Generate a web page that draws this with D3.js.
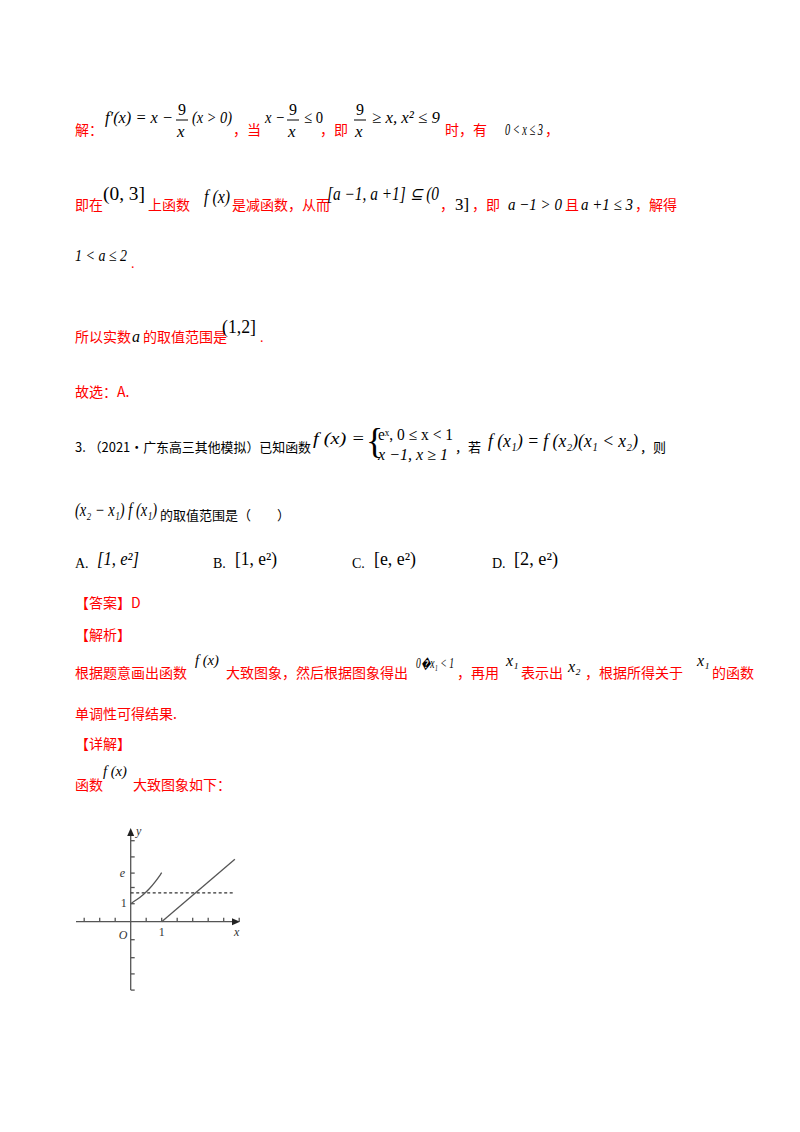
<!DOCTYPE html>
<html><head><meta charset="utf-8">
<script src="https://cdn.jsdelivr.net/npm/d3@7"></script>
<style>body{margin:0;background:#fff}</style></head>
<body><svg id="s" width="800" height="1132"></svg>
<script>
// Graph data
const curvePts = [[0,1],[0.2,1.22],[0.4,1.49],[0.6,1.82],[0.8,2.23],[1,2.72]];
const linePts = [[1,0],[3.36,3.47]];
const dashY = [1.6];
const xTicks = [-1.5,-1,-0.5,0.5,1,1.5,2,2.5,3,3.5];
const yTicks = [-3.8,-2.9,-2,-1,1,1.9,2.7,3.6,4.5];

const svg = d3.select("#s");
const RED="#ff0000", CJK="'Noto Sans CJK SC',sans-serif", SER="'Liberation Serif','Times New Roman',serif";
function t(x,y,s,c,f,sz,it,w){const e=svg.append("text").attr("x",x).attr("y",y).text(s).attr("fill",c||"#000")
  .attr("font-family",f||SER).attr("font-size",sz||17).attr("font-style",it?"italic":"normal");
  if(w) e.attr("textLength",w).attr("lengthAdjust","spacingAndGlyphs");}
function frac(x,y,n,d){t(x,y-8,n,"#000",SER,16);svg.append("line").attr("x1",x-2).attr("x2",x+10).attr("y1",y-3).attr("y2",y-3).attr("stroke","#000");t(x-1,y+14,d,"#000",SER,17,true);}
// line 1
t(75,135,"解：",RED,CJK,14);
t(105,123,"f′(x) = x −","#000",SER,17,true,68); frac(178,123,"9","x"); t(192,123,"(x > 0)","#000",SER,17,true,40);
t(233,135,"，当",RED,CJK,14);
t(265,123,"x −","#000",SER,17,true,20); frac(289,123,"9","x"); t(304,123,"≤ 0","#000",SER,17,false,19);
t(320,135,"，即",RED,CJK,14);
frac(356,123,"9","x"); t(372,123,"≥ x,  x² ≤ 9","#000",SER,17,true,68);
t(445,135,"时，有",RED,CJK,14);
t(505,135,"0 < x ≤ 3","#000",SER,17,true,38);
t(545,135,"，",RED,CJK,14);
// line 2
t(75,210,"即在",RED,CJK,14); t(103,200,"(0,  3]","#000",SER,19,false,42);
t(148,210,"上函数",RED,CJK,14); t(204,203,"f (x)","#000",SER,18,true,26);
t(232,210,"是减函数，从而",RED,CJK,14); t(327,200,"[a −1,  a +1] ⊆ (0","#000",SER,18,true,112);
t(440,210,"，",RED,CJK,14); t(455,210,"3]","#000",SER,17,false,14);
t(472,210,"，即",RED,CJK,14); t(508,210,"a −1 > 0","#000",SER,17,true,54);
t(565,210,"且",RED,CJK,14); t(581,210,"a +1 ≤ 3","#000",SER,17,true,52);
t(635,210,"，解得",RED,CJK,14);
// line 3
t(75,261,"1 < a ≤ 2","#000",SER,17,true,52); t(131,268,".",RED,SER,14);
// line 4
t(75,342,"所以实数",RED,CJK,14); t(132,342,"a","#000",SER,16,true); t(143,342,"的取值范围是",RED,CJK,14);
t(222,333,"(1,2]","#000",SER,19,false,34); t(260,342,".",RED,SER,14);
// line 5
t(75,397,"故选：A.",RED,CJK,14);
// question
t(75,452,"3. （2021·广东高三其他模拟）已知函数","#000",CJK,13,false,236);
t(313,444,"f (x) =","#000",SER,17,true,52); t(366,453,"{","#000",SER,36);
t(378,440,"eˣ, 0 ≤ x < 1","#000",SER,16,false,75); t(378,460,"x −1, x ≥ 1","#000",SER,16,true,70);
t(455,452,"，若","#000",CJK,13); t(488,447,"f (x₁) = f (x₂)(x₁ < x₂)","#000",SER,18,true,150); t(640,452,"，则","#000",CJK,13);
t(75,516,"(x₂ − x₁) f (x₁)","#000",SER,18,true,82); t(160,520,"的取值范围是（　　）","#000",CJK,13);
t(75,568,"A.","#000",SER,14); t(97,565,"[1, e²]","#000",SER,18,true,42);
t(213,568,"B.","#000",SER,14); t(235,565,"[1, e²)","#000",SER,18,false,42);
t(352,568,"C.","#000",SER,14); t(374,565,"[e, e²)","#000",SER,18,false,42);
t(492,568,"D.","#000",SER,14); t(514,565,"[2, e²)","#000",SER,18,false,44);
t(75,608,"【答案】D",RED,CJK,14);
t(75,640,"【解析】",RED,CJK,14);
t(75,678,"根据题意画出函数",RED,CJK,14); t(195,665,"f (x)","#000",SER,15,true,24);
t(226,678,"大致图象，然后根据图象得出",RED,CJK,14); t(416,668,"0�x₁ < 1","#000",SER,14,true,38);
t(457,678,"，再用",RED,CJK,14); t(506,666,"x₁","#000",SER,16,true);
t(521,678,"表示出",RED,CJK,14); t(568,672,"x₂","#000",SER,16,true);
t(585,678,"，根据所得关于",RED,CJK,14); t(697,666,"x₁","#000",SER,16,true); t(712,678,"的函数",RED,CJK,14);
t(75,719,"单调性可得结果.",RED,CJK,14);
t(75,749,"【详解】",RED,CJK,14);
t(75,790,"函数",RED,CJK,14); t(103,776,"f (x)","#000",SER,15,true,24); t(133,790,"大致图象如下：",RED,CJK,14);

// graph
const x = d3.scaleLinear().domain([0,1]).range([130.7,161.7]);
const y = d3.scaleLinear().domain([0,1]).range([921.7,903.7]);
const g = svg.append("g").attr("stroke","#555").attr("fill","none").attr("stroke-width",1.3);
g.append("line").attr("x1",76).attr("x2",236).attr("y1",y(0)).attr("y2",y(0));
g.append("line").attr("x1",x(0)).attr("x2",x(0)).attr("y1",990).attr("y2",834);
svg.append("path").attr("d",`M240,${y(0)} l-8,-3.5 v7z`).attr("fill","#222");
svg.append("path").attr("d",`M${x(0)},828 l-3.5,8 h7z`).attr("fill","#222");
xTicks.forEach(v=>g.append("line").attr("x1",x(v)).attr("x2",x(v)).attr("y1",y(0)-4).attr("y2",y(0)));
yTicks.forEach(v=>g.append("line").attr("x1",x(0)).attr("x2",x(0)+4).attr("y1",y(v)).attr("y2",y(v)));
g.append("line").attr("x1",x(0)).attr("x2",235).attr("y1",y(dashY[0])).attr("y2",y(dashY[0])).attr("stroke-dasharray","3,2.5").attr("stroke","#333");
g.append("path").attr("d",d3.line().x(d=>x(d[0])).y(d=>y(d[1])).curve(d3.curveBasis)(curvePts));
g.append("path").attr("d",d3.line().x(d=>x(d[0])).y(d=>y(d[1]))(linePts));
t(x(0)-12,y(0)+17,"O","#333",SER,12,true); t(x(1)-3,y(0)+14,"1","#333",SER,12);
t(234,936,"x","#333",SER,12,true); t(136,835,"y","#333",SER,12,true);
t(x(0)-10,y(1)+3,"1","#333",SER,12); t(x(0)-11,y(2.72)+4,"e","#333",SER,12,true);
</script></body></html>
